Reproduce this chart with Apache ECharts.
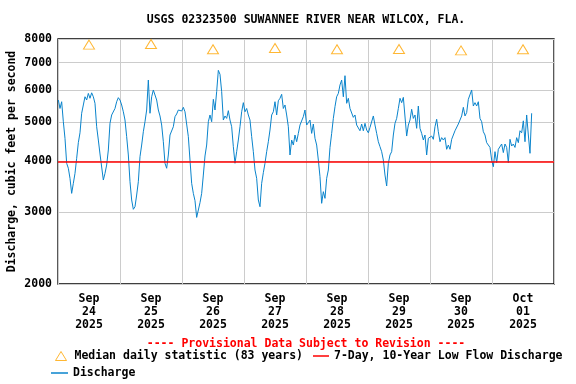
<!DOCTYPE html>
<html><head><meta charset="utf-8">
<script src="https://cdn.jsdelivr.net/npm/echarts@6/dist/echarts.min.js"></script>
<style>html,body{margin:0;padding:0;background:#fff}#c{width:576px;height:384px}</style>
</head><body><div id="c"></div>
<script>
const chartTitle = 'USGS 02323500 SUWANNEE RIVER NEAR WILCOX, FLA.';
const dayLabels = ['Sep\n24\n2025','Sep\n25\n2025','Sep\n26\n2025','Sep\n27\n2025','Sep\n28\n2025','Sep\n29\n2025','Sep\n30\n2025','Oct\n01\n2025'];
const medianValues = [7750, 7780, 7550, 7600, 7550, 7560, 7500, 7550];
const lowFlowValue = 4000;
const yTicks = [2000, 3000, 4000, 5000, 6000, 7000, 8000];
// discharge sampled on a regular grid (hours since Sep 24 00:00)
const sampleStartHour = 0.129;
const sampleStepHour = 0.64516;
const discharge = [
5665,5400,5610,5010,4560,3960,3850,3637,3340,3535,
3740,4073,4450,4705,5255,5507,5770,5665,5880,5720,
5900,5770,5560,4870,4517,4174,4190,3602,3740,3921,
4269,4964,5204,5255,5400,5610,5740,5665,5507,5300,
5058,4604,4150,3568,3217,3052,3097,3309,3568,4110,
4391,4734,5010,5353,6343,5255,5770,5995,5827,5665,
5353,5175,4917,4474,3960,3850,4150,4647,4604,4870,
5155,5234,5353,5400,5323,5435,5300,5255,4604,4034,
3535,3340,3205,2915,3040,3168,3340,3705,4127,4391,
5010,5204,5010,5687,5353,5940,6700,6550,5940,5058,
5175,5105,5333,5058,4870,4350,3960,4229,4517,4870,
5300,5580,5300,5400,5204,5058,4604,4229,3812,3637,
3217,3097,3535,3755,3960,4229,4474,4780,5204,5300,
5610,5204,5640,5720,5850,5400,5507,5204,4870,4150,
4517,4391,4647,4474,4690,4917,4870,5155,5353,4917,
4983,
5058,4690,4945,4560,4391,4034,3670,3157,3372,3247,
3637,3812,4332,4690,5105,5455,5770,5880,6167,6343,
5770,6500,5560,5720,5400,5353,5135,5204,4917,4917,
4760,4945,4760,4964,4780,4705,4850,4800,5175,4917,
4690,4474,4350,4229,4034,3705,3482,3960,4150,4229,
4647,4964,5105,5400,5720,5580,5750,5687,4620,4917,
5058,5375,5105,5204,4826,5475,4826,4690,4517,4647,
4150,4560,4535,4620,4535,4870,5080,4734,4474,4578,
4517,4578,4286,4391,4286,4535,4560,4760,4800,4945,
4945,5175,5435,5175,5275,5687,5640,5995,5475,5580,
5475,5610,5105,5010,4734,4647,4450,4474,4332,4034,
3883,4229,3975,4286,4252,4416,4207,4416,4332,3975,
4535,4366,4416,4332,4578,4450,4760,4705,5035,4474,
5204,4647,4190,5255
];
const FONT = 'DejaVu Sans Mono';
const txt = {fontFamily: FONT, fontWeight: 'bold', fontSize: 11.5, color: '#000'};
const dischargeData = discharge.map((v, i) => [sampleStartHour + i * sampleStepHour, v]);

const chart = echarts.init(document.getElementById('c'), null, {renderer: 'canvas'});
chart.setOption({
  animation: false,
  backgroundColor: '#fff',
  title: [
    {text: chartTitle, left: 306, top: 14, textAlign: 'center', padding: 0,
     textStyle: Object.assign({}, txt)},
    {text: '---- Provisional Data Subject to Revision ----', left: 306, top: 338, textAlign: 'center', padding: 0,
     textStyle: Object.assign({}, txt, {color: '#FF0000'})}
  ],
  grid: {left: 58, right: 22, top: 39, bottom: 100, containLabel: false, outerBoundsMode: 'none',
         show: true, borderColor: '#000', borderWidth: 1.3, backgroundColor: 'transparent'},
  xAxis: [
    {type: 'value', min: 0, max: 192, interval: 24, axisLabel: {show: false}, axisTick: {show: false},
     axisLine: {show: false}, splitLine: {show: true, lineStyle: {color: '#cccccc', width: 1}}},
    {type: 'category', data: dayLabels, boundaryGap: true, position: 'bottom',
     axisLine: {show: false}, axisTick: {show: false}, splitLine: {show: false},
     axisLabel: Object.assign({}, txt, {margin: 9, lineHeight: 13, interval: 0})}
  ],
  yAxis: {
    type: 'log', logBase: 2, min: 2000, max: 8000,
    name: 'Discharge, cubic feet per second', nameLocation: 'middle', nameGap: 40,
    nameMoveOverlap: false,
    nameTextStyle: Object.assign({}, txt),
    axisLine: {show: false},
    axisTick: {show: false, customValues: yTicks},
    axisLabel: Object.assign({}, txt, {customValues: yTicks, margin: 6, formatter: v => String(Math.round(v))}),
    splitLine: {show: true, lineStyle: {color: '#cccccc', width: 1}}
  },
  legend: [
    {data: [{name: 'Median daily statistic (83 years)', icon: 'triangle'}], left: 55, top: 350, padding: 0,
     itemWidth: 11, itemHeight: 9, itemGap: 0,
     itemStyle: {color: 'transparent', borderColor: '#FFA500', borderWidth: 1},
     textStyle: Object.assign({}, txt, {padding: [0, 0, 0, 3]})},
    {data: [{name: '7-Day, 10-Year Low Flow Discharge', icon: 'rect'}], left: 313, top: 350, padding: 0,
     itemWidth: 16, itemHeight: 1.5, itemStyle: {color: '#FF0000', borderWidth: 0},
     textStyle: Object.assign({}, txt)},
    {data: [{name: 'Discharge', icon: 'rect'}], left: 51, top: 367, padding: 0,
     itemWidth: 17, itemHeight: 1.5, itemStyle: {color: '#0A84CC', borderWidth: 0},
     textStyle: Object.assign({}, txt)}
  ],
  series: [
    {name: 'Discharge', type: 'line', xAxisIndex: 0, yAxisIndex: 0, data: dischargeData,
     symbol: 'none', lineStyle: {color: '#0A84CC', width: 1}, itemStyle: {color: '#0A84CC'}, z: 3},
    {name: '7-Day, 10-Year Low Flow Discharge', type: 'line', xAxisIndex: 0, yAxisIndex: 0, data: [],
     symbol: 'none', lineStyle: {color: '#FF0000', width: 1}, itemStyle: {color: '#FF0000'},
     markLine: {silent: true, symbol: 'none', label: {show: false},
       lineStyle: {color: '#FF0000', width: 1.5, type: 'solid'}, data: [{yAxis: lowFlowValue}]}, z: 4},
    {name: 'Median daily statistic (83 years)', type: 'scatter', xAxisIndex: 1, yAxisIndex: 0,
     data: medianValues, symbol: 'triangle', symbolSize: [11, 9],
     itemStyle: {color: 'transparent', borderColor: '#FFA500', borderWidth: 1}, z: 5}
  ]
});
</script>
</body></html>
